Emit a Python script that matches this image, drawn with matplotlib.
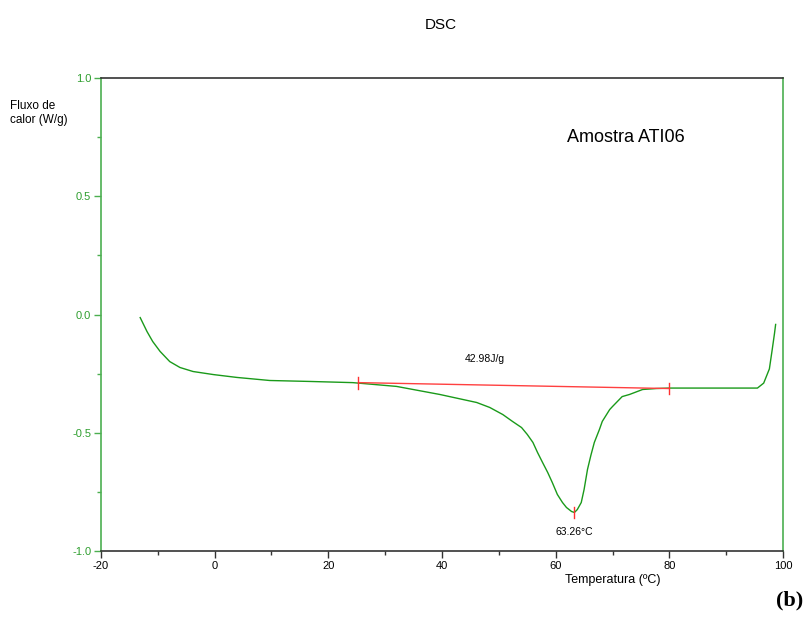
import numpy as np
import matplotlib.pyplot as plt

plt.rcParams['font.family'] = ['Liberation Sans', 'DejaVu Sans']
plt.rcParams['axes.unicode_minus'] = False

# curva DSC
temp = [-13.1, -11.9, -10.9, -9.6, -7.9, -6.1, -3.8, -0.2, 3.9, 9.7, 16.7, 24.3,
        32.0, 39.6, 46.1, 48.4, 50.7, 52.4, 54.0, 55.0, 56.0, 56.8, 57.7, 58.6,
        59.4, 60.3, 61.2, 61.9, 62.8, 63.3, 63.8, 64.5, 65.0, 65.6, 66.2, 66.8,
        67.7, 68.2, 69.5, 70.0, 71.7, 73.0, 75.3, 77.7, 80.0, 88.0, 95.5,
        96.6, 97.6, 98.1, 98.5, 98.7]
fluxo = [-0.013, -0.072, -0.114, -0.156, -0.199, -0.224, -0.241, -0.254, -0.266, -0.279, -0.283, -0.288,
         -0.304, -0.338, -0.372, -0.393, -0.423, -0.452, -0.478, -0.507, -0.541, -0.583, -0.626, -0.668,
         -0.71, -0.761, -0.795, -0.816, -0.833, -0.837, -0.825, -0.795, -0.740, -0.655, -0.595, -0.541,
         -0.486, -0.452, -0.402, -0.389, -0.347, -0.338, -0.317, -0.313, -0.311, -0.311, -0.311,
         -0.29, -0.23, -0.148, -0.08, -0.042]

# linha de base e marcas
base_x = [25.3, 80.0]
base_y = [-0.288, -0.313]
pico_x, pico_y = 63.26, -0.837

verde = '#4caf50'
fig = plt.figure(figsize=(8.11, 6.37), dpi=100)
ax = fig.add_axes([0.1245, 0.135, 0.841, 0.7425])

ax.plot(temp, fluxo, color='#1a9a1a', lw=1.0)
ax.plot(base_x, base_y, color='#ff4040', lw=1.0)
for x0, y0 in zip(base_x + [pico_x], base_y + [pico_y]):
    ax.plot([x0, x0], [y0 - 0.025, y0 + 0.025], color='#ff3030', lw=1.0)

ax.text(47.5, -0.186, '42.98J/g', fontsize=7.5, ha='center', va='center')
ax.text(63.3, -0.92, '63.26°C', fontsize=7.5, ha='center', va='center')
ax.text(72.4, 0.75, 'Amostra ATI06', fontsize=13, ha='center', va='center')

ax.set_xlim(-20, 100)
ax.set_ylim(-1.0, 1.0)
ax.set_xticks([-20, 0, 20, 40, 60, 80, 100])
ax.set_xticks([-10, 10, 30, 50, 70, 90], minor=True)
ax.set_yticks([-1.0, -0.5, 0.0, 0.5, 1.0])
ax.set_yticklabels(['-1.0', '-0.5', '0.0', '0.5', '1.0'])
ax.set_yticks([-0.75, -0.25, 0.25, 0.75], minor=True)

for s in ['left', 'right']:
    ax.spines[s].set_color(verde)
    ax.spines[s].set_linewidth(1.2)
for s in ['top', 'bottom']:
    ax.spines[s].set_color('#333333')
    ax.spines[s].set_linewidth(1.2)

ax.tick_params(axis='x', which='major', length=5, width=1, color='#333333',
               labelsize=8, pad=2)
ax.tick_params(axis='x', which='minor', length=3, width=1, color='#333333')
ax.tick_params(axis='y', which='major', length=5, width=1, color=verde,
               labelcolor='#2e9e2e', labelsize=8, pad=2)
ax.tick_params(axis='y', which='minor', length=3, width=1, color=verde)

fig.text(441 / 811, 1 - 25 / 637, 'DSC', fontsize=11, ha='center', va='center')
fig.text(10 / 811, 1 - 113 / 637, 'Fluxo de\ncalor (W/g)', fontsize=8.5, ha='left',
         va='center', linespacing=1.3)
fig.text(613 / 811, 1 - 580 / 637, 'Temperatura (ºC)', fontsize=9, ha='center', va='center')
fig.text(790 / 811, 1 - 600 / 637, '(b)', fontsize=16, fontweight='bold',
         family='Liberation Serif', ha='center', va='center')

plt.savefig('out.png', dpi=100)
